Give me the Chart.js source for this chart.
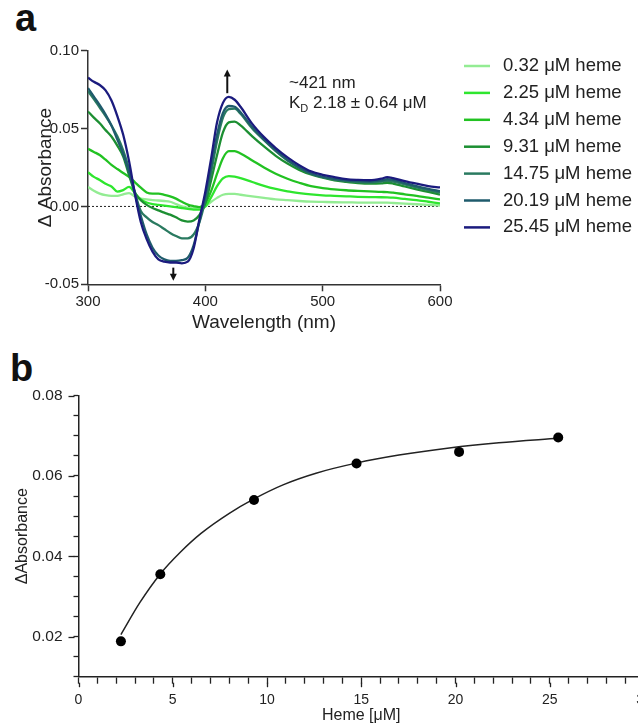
<!DOCTYPE html>
<html>
<head>
<meta charset="utf-8">
<script src="https://cdn.jsdelivr.net/npm/chart.js@4.4.1/dist/chart.umd.min.js"></script>
<style>
  html, body { margin: 0; padding: 0; background: #fff; overflow: hidden; width: 638px; height: 725px; }
  canvas { position: absolute; left: 0; }
  #spectra { top: 0; }
  #binding { top: 340px; }
  .tag { position: absolute; font: bold 38px "Liberation Sans", Arial, sans-serif; line-height: 38px; color: #111; }
</style>
</head>
<body>
<div class="tag" style="left:15px;top:-1px">a</div>
<div class="tag" style="left:10px;top:349px">b</div>
<canvas id="spectra" width="638" height="340"></canvas>
<canvas id="binding" width="680" height="385"></canvas>
<script>
// ---------- Panel a: difference spectra ----------
const wavelengths = [300,305,310,315,320,325,330,335,340,345,350,355,360,365,370,375,380,385,390,395,400,405,410,415,420,425,430,440,450,460,470,480,490,500,510,520,530,540,550,555,560,570,580,590,600];

const hemeLabels = ['0.32 μM heme','2.25 μM heme','4.34 μM heme','9.31 μM heme','14.75 μM heme','20.19 μM heme','25.45 μM heme'];
const hemeColors = ['#93ec93','#2ee62e','#22c222','#1c8f32','#2a7a60','#1f5b6c','#1b1b7e'];

const dA_0_32 = [0.0125,0.0100,0.0082,0.0072,0.0068,0.0068,0.0078,0.0085,0.0065,0.0050,0.0045,0.0040,0.0038,0.0035,0.0030,0.0015,0.0000,-0.0008,-0.0010,-0.0008,0.0000,0.0030,0.0055,0.0075,0.0080,0.0080,0.0075,0.0065,0.0055,0.0045,0.0040,0.0035,0.0031,0.0029,0.0027,0.0026,0.0025,0.0024,0.0024,0.0024,0.0022,0.0018,0.0014,0.0010,0.0006];
const dA_2_25 = [0.0220,0.0190,0.0170,0.0145,0.0128,0.0095,0.0105,0.0125,0.0085,0.0045,0.0025,0.0015,0.0010,0.0005,0.0000,-0.0005,-0.0010,-0.0015,-0.0020,-0.0020,0.0000,0.0060,0.0130,0.0180,0.0195,0.0192,0.0182,0.0157,0.0132,0.0112,0.0097,0.0086,0.0077,0.0071,0.0068,0.0065,0.0062,0.0060,0.0059,0.0058,0.0056,0.0048,0.0040,0.0030,0.0020];
const dA_4_34 = [0.0370,0.0350,0.0330,0.0300,0.0267,0.0240,0.0215,0.0190,0.0155,0.0120,0.0090,0.0082,0.0082,0.0075,0.0065,0.0050,0.0030,0.0012,0.0002,-0.0005,0.0020,0.0100,0.0210,0.0310,0.0355,0.0355,0.0340,0.0295,0.0250,0.0210,0.0178,0.0152,0.0130,0.0118,0.0110,0.0104,0.0100,0.0097,0.0093,0.0092,0.0088,0.0078,0.0068,0.0056,0.0045];
const dA_9_31 = [0.0610,0.0570,0.0534,0.0490,0.0449,0.0390,0.0320,0.0200,0.0090,0.0040,0.0010,-0.0010,-0.0025,-0.0040,-0.0053,-0.0070,-0.0090,-0.0097,-0.0090,-0.0055,0.0020,0.0170,0.0330,0.0475,0.0540,0.0545,0.0520,0.0450,0.0385,0.0325,0.0275,0.0235,0.0205,0.0185,0.0168,0.0158,0.0150,0.0146,0.0148,0.0152,0.0147,0.0128,0.0110,0.0093,0.0076];
const dA_14_75 = [0.0740,0.0690,0.0635,0.0580,0.0520,0.0450,0.0360,0.0240,0.0090,-0.0030,-0.0070,-0.0100,-0.0120,-0.0145,-0.0170,-0.0190,-0.0205,-0.0205,-0.0180,-0.0100,0.0040,0.0220,0.0420,0.0570,0.0625,0.0628,0.0595,0.0500,0.0425,0.0355,0.0295,0.0248,0.0210,0.0188,0.0173,0.0163,0.0157,0.0155,0.0160,0.0165,0.0160,0.0142,0.0122,0.0104,0.0088];
const dA_20_19 = [0.0760,0.0705,0.0650,0.0590,0.0520,0.0430,0.0335,0.0220,0.0080,-0.0060,-0.0180,-0.0265,-0.0315,-0.0340,-0.0350,-0.0350,-0.0345,-0.0330,-0.0250,-0.0095,0.0070,0.0260,0.0460,0.0600,0.0645,0.0640,0.0605,0.0510,0.0430,0.0360,0.0300,0.0250,0.0212,0.0190,0.0177,0.0167,0.0162,0.0160,0.0167,0.0175,0.0170,0.0150,0.0130,0.0112,0.0098];
const dA_25_45 = [0.0827,0.0800,0.0780,0.0745,0.0680,0.0580,0.0460,0.0290,0.0080,-0.0100,-0.0210,-0.0290,-0.0340,-0.0355,-0.0360,-0.0360,-0.0365,-0.0355,-0.0270,-0.0080,0.0095,0.0310,0.0540,0.0665,0.0703,0.0685,0.0640,0.0530,0.0445,0.0375,0.0315,0.0265,0.0225,0.0203,0.0188,0.0175,0.0170,0.0168,0.0178,0.0188,0.0182,0.0163,0.0146,0.0130,0.0122];

const spectraSeries = [dA_0_32, dA_2_25, dA_4_34, dA_9_31, dA_14_75, dA_20_19, dA_25_45];
const zeroLineX = [300, 600];
const zeroLineY = [0, 0];

// ---------- Panel b: titration ----------
const hemeConc = [2.25, 4.34, 9.31, 14.75, 20.19, 25.45];
const deltaAbs = [0.0188, 0.0355, 0.0540, 0.0631, 0.0660, 0.0696];
const fitConc = [2.25, 3.26, 4.34, 5.4, 6.5, 8.0, 9.31, 10.85, 12.6, 14.73, 17.0, 19.67, 22.3, 25.45];
const fitAbs  = [0.0205, 0.0285, 0.0356, 0.0410, 0.0457, 0.0507, 0.0543, 0.0578, 0.0607, 0.0632, 0.0652, 0.0670, 0.0683, 0.0694];

const FONT = '"Liberation Sans", Arial, Helvetica, sans-serif';
const INK = '#222';
const AXIS = '#333';

const toXY = (xs, ys) => xs.map((x, i) => ({ x, y: ys[i] }));

// legend, arrows and K_D note for the spectra panel
const spectraDecor = {
  id: 'spectraDecor',
  afterDraw(chart) {
    const ctx = chart.ctx;
    const xs = chart.scales.x, ys = chart.scales.y;
    ctx.save();
    // legend
    ctx.font = '18.5px ' + FONT;
    ctx.textBaseline = 'middle';
    ctx.textAlign = 'left';
    hemeLabels.forEach((lab, i) => {
      const y = 66 + 26.9 * i;
      ctx.strokeStyle = hemeColors[i];
      ctx.lineWidth = 2.5;
      ctx.beginPath(); ctx.moveTo(464, y); ctx.lineTo(490, y); ctx.stroke();
      ctx.fillStyle = INK;
      ctx.fillText(lab, 503, y);
    });
    // arrows
    const arrow = (xv, y0v, y1v) => {
      const x = xs.getPixelForValue(xv);
      const y0 = ys.getPixelForValue(y0v), y1 = ys.getPixelForValue(y1v);
      const dir = y1 < y0 ? -1 : 1;
      ctx.strokeStyle = '#111'; ctx.fillStyle = '#111'; ctx.lineWidth = 2;
      ctx.beginPath(); ctx.moveTo(x, y0); ctx.lineTo(x, y1 - dir * 6); ctx.stroke();
      ctx.beginPath();
      ctx.moveTo(x, y1); ctx.lineTo(x - 3.5, y1 - dir * 7); ctx.lineTo(x + 3.5, y1 - dir * 7);
      ctx.closePath(); ctx.fill();
    };
    arrow(418.7, 0.0727, 0.0880);
    arrow(372.7, -0.0393, -0.0478);
    // annotation
    ctx.fillStyle = INK;
    ctx.font = '17px ' + FONT;
    ctx.fillText('~421 nm', 289, 83.5);
    ctx.fillText('K', 289, 103.5);
    const kw = ctx.measureText('K').width;
    ctx.font = '11px ' + FONT;
    ctx.fillText('D', 289 + kw, 108.5);
    const dw = ctx.measureText('D').width;
    ctx.font = '17px ' + FONT;
    ctx.fillText(' 2.18 ± 0.64 μM', 289 + kw + dw, 103.5);
    ctx.restore();
  }
};

new Chart(document.getElementById('spectra'), {
  type: 'line',
  data: {
    datasets: [
      ...spectraSeries.map((vals, i) => ({
        label: hemeLabels[i],
        data: toXY(wavelengths, vals),
        borderColor: hemeColors[i],
        borderWidth: 2.3,
        order: spectraSeries.length - i
      })),
      {
        label: 'baseline',
        data: toXY(zeroLineX, zeroLineY),
        borderColor: '#222',
        borderWidth: 1,
        borderDash: [2, 2],
        cubicInterpolationMode: 'default',
        tension: 0,
        order: 20
      }
    ]
  },
  options: {
    responsive: false,
    animation: false,
    devicePixelRatio: 1,
    layout: { padding: { left: 0, right: 198, top: 50.7, bottom: 0 } },
    plugins: { legend: { display: false }, tooltip: { enabled: false } },
    elements: { point: { radius: 0 }, line: { cubicInterpolationMode: 'monotone' } },
    scales: {
      x: {
        type: 'linear', min: 300, max: 600,
        ticks: { stepSize: 100, color: INK, font: { family: FONT, size: 15 }, padding: 2, maxRotation: 0 },
        grid: { drawOnChartArea: false, tickLength: 7, tickColor: AXIS, tickWidth: 1.5 },
        border: { color: AXIS, width: 1.5 },
        title: { display: true, text: 'Wavelength (nm)', color: INK, font: { family: FONT, size: 19 }, padding: { top: 0, bottom: 5.6 } },
        afterFit(s) { s.height = 55.7; }
      },
      y: {
        type: 'linear', min: -0.05, max: 0.1,
        ticks: { stepSize: 0.05, color: INK, font: { family: FONT, size: 15 }, padding: 2, callback: v => v.toFixed(2) },
        grid: { drawOnChartArea: false, tickLength: 7, tickColor: AXIS, tickWidth: 1.5 },
        border: { color: AXIS, width: 1.5 },
        title: { display: true, text: 'Δ Absorbance', color: INK, font: { family: FONT, size: 19 }, padding: { top: 34.6, bottom: 0 } },
        afterFit(s) { s.width = 88; }
      }
    }
  },
  plugins: [spectraDecor]
});

// longer marks for the labelled ticks of the titration axes
const majorTicks = {
  id: 'majorTicks',
  afterDraw(chart) {
    const ctx = chart.ctx;
    const { left, bottom } = chart.chartArea;
    ctx.save();
    ctx.strokeStyle = INK;
    ctx.lineWidth = 1.3;
    const ys = chart.scales.y, xs = chart.scales.x;
    ys.ticks.forEach((t, i) => {
      if (!t.label) return;
      const y = Math.round(ys.getPixelForTick(i)) + 0.5;
      ctx.beginPath(); ctx.moveTo(left - 10, y); ctx.lineTo(left - 4, y); ctx.stroke();
    });
    xs.ticks.forEach((t, i) => {
      if (!t.label) return;
      const x = Math.round(xs.getPixelForTick(i)) + 0.5;
      ctx.beginPath(); ctx.moveTo(x, bottom + 6); ctx.lineTo(x, bottom + 10.5); ctx.stroke();
    });
    ctx.restore();
  }
};

new Chart(document.getElementById('binding'), {
  type: 'line',
  data: {
    datasets: [
      {
        label: 'data',
        data: toXY(hemeConc, deltaAbs),
        showLine: false,
        pointRadius: 5,
        pointBackgroundColor: '#000',
        pointBorderColor: '#000',
        pointBorderWidth: 0,
        order: 0
      },
      {
        label: 'fit',
        data: toXY(fitConc, fitAbs),
        borderColor: '#222',
        borderWidth: 1.5,
        pointRadius: 0,
        cubicInterpolationMode: 'monotone',
        order: 1
      }
    ]
  },
  options: {
    responsive: false,
    animation: false,
    devicePixelRatio: 1,
    layout: { padding: { left: 0, right: 36, top: 55.7, bottom: 0 } },
    plugins: { legend: { display: false }, tooltip: { enabled: false } },
    scales: {
      x: {
        type: 'linear', min: 0, max: 30,
        ticks: {
          stepSize: 1, autoSkip: false, maxRotation: 0, color: INK, padding: 8,
          font: { family: FONT, size: 14 },
          callback: v => (v % 5 === 0 ? String(v) : '')
        },
        grid: { drawOnChartArea: false, tickLength: 7, tickColor: INK, tickWidth: 1.3 },
        border: { color: INK, width: 1.5 },
        title: { display: true, text: 'Heme [μM]', color: INK, font: { family: FONT, size: 16 }, padding: { top: 0, bottom: 0 } },
        afterFit(s) { s.height = 48.3; }
      },
      y: {
        type: 'linear', min: 0.01, max: 0.08,
        ticks: {
          stepSize: 0.005, autoSkip: false, color: INK, padding: 11,
          font: { family: FONT, size: 15.5 },
          callback: v => { const k = v / 0.02; return Math.abs(k - Math.round(k)) < 1e-6 ? v.toFixed(2) : ''; }
        },
        grid: { drawOnChartArea: false, tickLength: 5, tickColor: INK, tickWidth: 1.3 },
        border: { color: INK, width: 1.5 },
        title: { display: true, text: 'ΔAbsorbance', color: INK, font: { family: FONT, size: 16 }, padding: { top: 13, bottom: 0 } },
        afterFit(s) { s.width = 78.5; }
      }
    }
  },
  plugins: [majorTicks]
});
</script>
</body>
</html>
